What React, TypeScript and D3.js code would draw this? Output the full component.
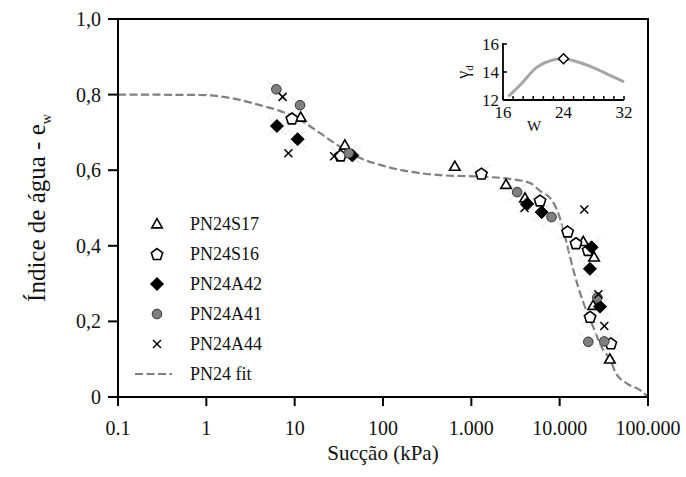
import React from "react";
import * as d3 from "d3";

const xTickValues = [0.1, 1, 10, 100, 1000, 10000, 100000];
const xTickLabels = ["0.1", "1", "10", "100", "1.000", "10.000", "100.000"];
const yTickValues = [0, 0.2, 0.4, 0.6, 0.8, 1.0];
const yTickLabels = ["0", "0,2", "0,4", "0,6", "0,8", "1,0"];

const s17Suction = [11.7, 37, 650, 2470, 4050, 18500, 24500, 23900, 37000];
const s17Ew = [0.74, 0.666, 0.61, 0.562, 0.526, 0.411, 0.37, 0.242, 0.1];

const s16Suction = [9.3, 33, 1300, 6000, 12300, 15300, 21000, 22100, 38000];
const s16Ew = [0.737, 0.639, 0.591, 0.52, 0.438, 0.407, 0.389, 0.212, 0.142];

const a42Suction = [6.3, 10.8, 45, 4300, 6260, 23000, 22000, 28600];
const a42Ew = [0.717, 0.682, 0.639, 0.511, 0.489, 0.396, 0.339, 0.239];

const a41Suction = [6.2, 11.5, 41, 3300, 8100, 26700, 21100, 32000];
const a41Ew = [0.814, 0.772, 0.645, 0.542, 0.476, 0.263, 0.146, 0.147];

const a44Suction = [7.3, 8.5, 28, 4000, 19000, 27400, 32000];
const a44Ew = [0.794, 0.645, 0.637, 0.5, 0.496, 0.272, 0.188];

const fitSuction = [0.1, 0.85, 2.4, 4.05, 6.8, 11.5, 19.4, 32.6, 55, 92.5, 442, 1250, 2740, 4620, 6000, 8130, 9660, 11000, 12530, 14290, 16260, 18530, 21100, 24500, 27500, 31000, 37200, 42400, 57400, 81300, 100000];
const fitEw = [0.8, 0.799, 0.786, 0.772, 0.757, 0.733, 0.698, 0.662, 0.632, 0.614, 0.587, 0.583, 0.577, 0.566, 0.545, 0.521, 0.486, 0.442, 0.389, 0.336, 0.29, 0.25, 0.215, 0.18, 0.15, 0.125, 0.1, 0.067, 0.036, 0.018, 0];

const insetW = [16.7, 18.5, 20.5, 22.5, 24, 26, 28, 30, 32];
const insetGamma = [12.25, 13.2, 14.35, 14.85, 14.95, 14.7, 14.3, 13.8, 13.3];
const insetPointW = [24];
const insetPointGamma = [14.95];
const insetXTicks = [16, 24, 32];
const insetYTicks = [12, 14, 16];

const seriesNames = ["PN24S17", "PN24S16", "PN24A42", "PN24A41", "PN24A44"];

const FONT = "Liberation Serif, Tinos, DejaVu Serif, serif";

function Marker({ type, x, y }: { type: string; x: number; y: number }) {
  if (type === "tri") {
    const s = d3.symbol(d3.symbolTriangle, 48)();
    return <path d={s as string} transform={`translate(${x},${y + 0.8})`} fill="white" stroke="black" strokeWidth={1.6} />;
  }
  if (type === "pent") {
    const r = 6;
    const pts = d3.range(5).map((i) => {
      const a = -Math.PI / 2 + (i * 2 * Math.PI) / 5;
      return [x + r * Math.cos(a), y + 0.6 + r * Math.sin(a)];
    });
    return <polygon points={pts.map((p) => p.join(",")).join(" ")} fill="white" stroke="black" strokeWidth={1.6} />;
  }
  if (type === "dia") {
    const r = 6.5;
    return <polygon points={`${x},${y - r} ${x + r},${y} ${x},${y + r} ${x - r},${y}`} fill="black" stroke="black" strokeWidth={1} />;
  }
  if (type === "circ") {
    return <circle cx={x} cy={y} r={4.8} fill="#7f7f7f" stroke="#333" strokeWidth={1} />;
  }
  const r = 4;
  return (
    <g stroke="black" strokeWidth={1.5}>
      <line x1={x - r} y1={y - r} x2={x + r} y2={y + r} />
      <line x1={x - r} y1={y + r} x2={x + r} y2={y - r} />
    </g>
  );
}

export default function App() {
  const x = d3.scaleLog().domain([0.1, 100000]).range([118, 648]);
  const y = d3.scaleLinear().domain([0, 1]).range([397, 19]);

  const fitLine = d3
    .line<number>()
    .x((_, i) => x(fitSuction[i]))
    .y((_, i) => y(fitEw[i]))
    .curve(d3.curveMonotoneX)(fitEw) as string;

  const ix = d3.scaleLinear().domain([16, 32]).range([503, 624]);
  const iy = d3.scaleLinear().domain([12, 16]).range([100, 44]);
  const insetLine = d3
    .line<number>()
    .x((_, i) => ix(insetW[i]))
    .y((_, i) => iy(insetGamma[i]))
    .curve(d3.curveCatmullRom)(insetGamma) as string;
  const insetMinor = d3.range(13).map((i) => 16 + (i * 16) / 12);

  const series = [
    { type: "tri", xs: s17Suction, ys: s17Ew, halo: false },
    { type: "pent", xs: s16Suction, ys: s16Ew, halo: true },
    { type: "dia", xs: a42Suction, ys: a42Ew, halo: true },
    { type: "circ", xs: a41Suction, ys: a41Ew, halo: true },
    { type: "x", xs: a44Suction, ys: a44Ew, halo: false },
  ];

  const legendTypes = ["tri", "pent", "dia", "circ", "x"];
  const legendY0 = 224;
  const legendDy = 30;
  const txt = { fontFamily: FONT };

  return (
    <svg
      width={686}
      height={477}
      style={{ position: "absolute", left: 0, top: 0, background: "white", fontFamily: FONT }}
    >
      <rect x={0} y={0} width={686} height={477} fill="white" />

      <path d={fitLine} fill="none" stroke="#808080" strokeWidth={2.2} strokeDasharray="8,3.5" />

      {series.map((s, si) =>
        s.xs.map((v, i) =>
          s.halo ? (
            <g key={`h${si}-${i}`} stroke="#e2e2e2" strokeWidth={1}>
              <line x1={x(v) - 9} y1={y(s.ys[i]) - 9} x2={x(v) + 9} y2={y(s.ys[i]) + 9} />
              <line x1={x(v) - 9} y1={y(s.ys[i]) + 9} x2={x(v) + 9} y2={y(s.ys[i]) - 9} />
            </g>
          ) : null
        )
      )}
      {series.map((s, si) =>
        s.xs.map((v, i) => <Marker key={`m${si}-${i}`} type={s.type} x={x(v)} y={y(s.ys[i])} />)
      )}

      <rect x={118} y={19} width={530} height={378} fill="none" stroke="black" strokeWidth={2} />

      {xTickValues.map((v, i) => (
        <g key={`xt${i}`}>
          <line x1={x(v)} x2={x(v)} y1={397} y2={406} stroke="black" strokeWidth={2} />
          <text x={x(v)} y={435} textAnchor="middle" fontSize={20} fill="#111" style={txt}>
            {xTickLabels[i]}
          </text>
        </g>
      ))}
      {yTickValues.map((v, i) => (
        <g key={`yt${i}`}>
          <line x1={108} x2={118} y1={y(v)} y2={y(v)} stroke="black" strokeWidth={2} />
          <text x={101} y={y(v) + 7} textAnchor="end" fontSize={20} fill="#111" style={txt}>
            {yTickLabels[i]}
          </text>
        </g>
      ))}

      <text x={383} y={460} textAnchor="middle" fontSize={21} fill="#111" style={txt}>
        Sucção (kPa)
      </text>
      <text transform="translate(45,208) rotate(-90)" textAnchor="middle" fontSize={25} fill="#111" style={txt}>
        Índice de água - e
        <tspan fontSize={14} dy={6}>w</tspan>
      </text>

      {seriesNames.map((n, i) => (
        <g key={`lg${i}`}>
          <Marker type={legendTypes[i]} x={157} y={legendY0 + i * legendDy} />
          <text x={190} y={legendY0 + i * legendDy + 6} fontSize={18} fill="#111" style={txt}>
            {n}
          </text>
        </g>
      ))}
      <line
        x1={135}
        x2={172}
        y1={legendY0 + 5 * legendDy}
        y2={legendY0 + 5 * legendDy}
        stroke="#808080"
        strokeWidth={2.2}
        strokeDasharray="8,3.5"
      />
      <text x={190} y={legendY0 + 5 * legendDy + 6} fontSize={18} fill="#111" style={txt}>
        PN24 fit
      </text>

      <path d={insetLine} fill="none" stroke="#a6a6a6" strokeWidth={3} />
      {insetPointW.map((w, i) => {
        const cx = ix(w);
        const cy = iy(insetPointGamma[i]);
        const r = 5;
        return (
          <polygon
            key={`ip${i}`}
            points={`${cx},${cy - r} ${cx + r},${cy} ${cx},${cy + r} ${cx - r},${cy}`}
            fill="white"
            stroke="black"
            strokeWidth={1.5}
          />
        );
      })}
      <line x1={503} x2={503} y1={43} y2={100} stroke="black" strokeWidth={1.8} />
      <line x1={503} x2={624} y1={100} y2={100} stroke="black" strokeWidth={1.8} />
      {insetMinor.map((v, i) => (
        <line key={`im${i}`} x1={ix(v)} x2={ix(v)} y1={100} y2={96} stroke="black" strokeWidth={1.5} />
      ))}
      {insetYTicks.map((v, i) => (
        <g key={`iy${i}`}>
          <line x1={503} x2={507} y1={iy(v)} y2={iy(v)} stroke="black" strokeWidth={1.5} />
          <text x={499} y={iy(v) + 6} textAnchor="end" fontSize={17} fill="#111" style={txt}>
            {v}
          </text>
        </g>
      ))}
      {insetXTicks.map((v, i) => (
        <text key={`ix${i}`} x={ix(v)} y={118} textAnchor="middle" fontSize={17} fill="#111" style={txt}>
          {v}
        </text>
      ))}
      <text x={534} y={131} textAnchor="middle" fontSize={15} fill="#111" style={txt}>
        W
      </text>
      <text transform="translate(469,72) rotate(-90)" textAnchor="middle" fontSize={18} fill="#111" style={txt}>
        γ<tspan fontSize={11} dy={4}>d</tspan>
      </text>
    </svg>
  );
}
